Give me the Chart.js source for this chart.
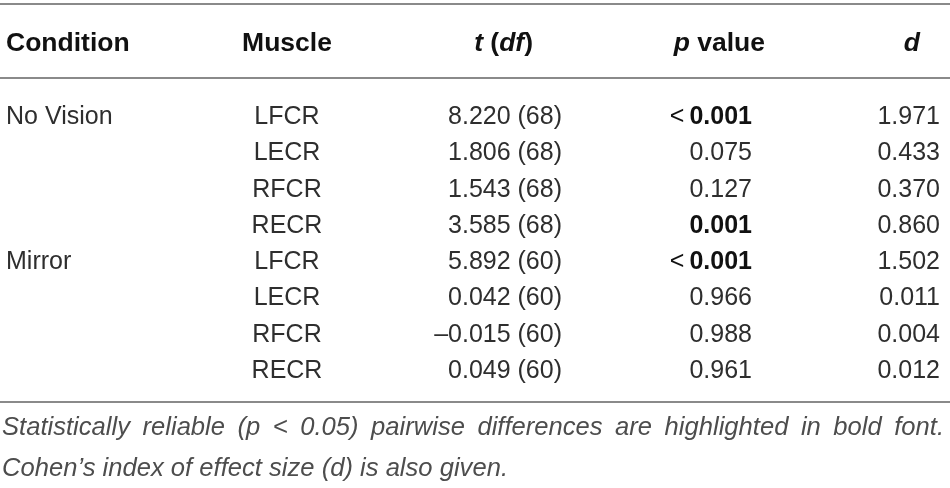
<!DOCTYPE html>
<html><head><meta charset="utf-8">
<script src="https://cdn.jsdelivr.net/npm/chart.js@4/dist/chart.umd.min.js"></script>
<style>html,body{margin:0;padding:0;background:#fff;}#wrap{width:950px;height:488px;position:relative;}</style>
</head><body><div id="wrap"><canvas id="c"></canvas></div>
<script>
// ---- data ----
const columnKeys = ['Condition', 'Muscle', 't (df)', 'p value', 'd'];
const conditionLabels = ['No Vision', '', '', '', 'Mirror', '', '', ''];
const muscles = ['LFCR', 'LECR', 'RFCR', 'RECR', 'LFCR', 'LECR', 'RFCR', 'RECR'];
const tValues = [8.220, 1.806, 1.543, 3.585, 5.892, 0.042, -0.015, 0.049];
const dfValues = [68, 68, 68, 68, 60, 60, 60, 60];
const pValues = [0.001, 0.075, 0.127, 0.001, 0.001, 0.966, 0.988, 0.961];
const pBelow = [true, false, false, false, true, false, false, false];
const dValues = [1.971, 0.433, 0.370, 0.860, 1.502, 0.011, 0.004, 0.012];
const alpha = 0.05;
const footnoteLines = [
  'Statistically reliable (p < 0.05) pairwise differences are highlighted in bold font.',
  'Cohen\u2019s index of effect size (d) is also given.'
];
const headerRuns = [
  [['Condition', 'hb']],
  [['Muscle', 'hb']],
  [['t', 'hbi'], [' (', 'hb'], ['df', 'hbi'], [')', 'hb']],
  [['p', 'hbi'], [' value', 'hb']],
  [['d', 'hbi']]
];
const rowIds = muscles.map((m, i) => i);

// ---- style ----
const FAM = '"Liberation Sans", Arial, Helvetica, sans-serif';
const fonts = {
  r: '400 25px ' + FAM,
  b: '700 25px ' + FAM,
  hb: '700 26.5px ' + FAM,
  hbi: 'italic 700 26.5px ' + FAM,
  i: 'italic 400 25px ' + FAM
};
const colStyle = [
  { align: 'left', dx: -89, hdx: -89 },
  { align: 'center', dx: 2, hdx: 2 },
  { align: 'right', dx: 87, hdx: 58 },
  { align: 'right', dx: 87, hdx: 100 },
  { align: 'right', dx: 85, hdx: 65 }
];
const bodyColor = '#2e2e2e', headColor = '#111111', noteColor = '#4d4d4d', ruleColor = '#8a8a8a';

function fmt(v) { return (v < 0 ? '\u2013' : '') + Math.abs(v).toFixed(3); }

function drawRuns(ctx, runs, x, y, align, color) {
  let total = 0;
  const widths = runs.map(r => { ctx.font = fonts[r[1]]; const w = ctx.measureText(r[0]).width; total += w; return w; });
  let sx = align === 'left' ? x : align === 'center' ? x - total / 2 : x - total;
  ctx.fillStyle = color;
  ctx.textAlign = 'left';
  ctx.textBaseline = 'alphabetic';
  runs.forEach((r, k) => { ctx.font = fonts[r[1]]; ctx.fillText(r[0], sx, y); sx += widths[k]; });
}

const tablePlugin = {
  id: 'table',
  afterDraw(chart) {
    const ctx = chart.ctx, xs = chart.scales.x, ys = chart.scales.y, ca = chart.chartArea;
    const W = chart.width;
    const capOff = 9;
    ctx.save();
    // rules
    ctx.strokeStyle = ruleColor; ctx.lineWidth = 2;
    [ca.top - 93, ca.top - 19, ca.bottom + 15].forEach(y => {
      ctx.beginPath(); ctx.moveTo(0, y); ctx.lineTo(W, y); ctx.stroke();
    });
    // header
    const hy = ca.top - 46;
    columnKeys.forEach((k, c) => {
      const x = xs.getPixelForValue(c) + colStyle[c].hdx;
      drawRuns(ctx, headerRuns[c], x, hy, colStyle[c].align, headColor);
    });
    // body
    rowIds.forEach((r, i) => {
      const y = ys.getPixelForValue(i) + capOff;
      const cx = c => xs.getPixelForValue(c) + colStyle[c].dx;
      if (conditionLabels[i]) drawRuns(ctx, [[conditionLabels[i], 'r']], cx(0), y, colStyle[0].align, bodyColor);
      drawRuns(ctx, [[muscles[i], 'r']], cx(1), y, colStyle[1].align, bodyColor);
      drawRuns(ctx, [[fmt(tValues[i]) + ' (' + dfValues[i] + ')', 'r']], cx(2), y, colStyle[2].align, bodyColor);
      const sig = pBelow[i] || pValues[i] < alpha;
      const pr = [];
      if (pBelow[i]) pr.push(['<', 'r'], ['\u2009', 'r']);
      pr.push([pValues[i].toFixed(3), sig ? 'b' : 'r']);
      drawRuns(ctx, pr, cx(3), y, colStyle[3].align, sig ? headColor : bodyColor);
      drawRuns(ctx, [[dValues[i].toFixed(3), 'r']], cx(4), y, colStyle[4].align, bodyColor);
    });
    // footnote (italic, first line justified)
    ctx.font = fonts.i; ctx.fillStyle = noteColor; ctx.textAlign = 'left'; ctx.textBaseline = 'alphabetic';
    const startX = 2;
    const s = (508 - startX) / ctx.measureText(footnoteLines[1]).width;
    const fy1 = ca.bottom + 48, fy2 = ca.bottom + 89;
    const words = footnoteLines[0].split(' ');
    const ww = words.map(w => ctx.measureText(w).width * s);
    const sumW = ww.reduce((a, b) => a + b, 0);
    const gap = (944 - startX - sumW) / (words.length - 1);
    let x = startX;
    words.forEach((w, k) => {
      ctx.save(); ctx.translate(x, fy1); ctx.scale(s, 1); ctx.fillText(w, 0, 0); ctx.restore();
      x += ww[k] + gap;
    });
    ctx.save(); ctx.translate(startX, fy2); ctx.scale(s, 1); ctx.fillText(footnoteLines[1], 0, 0); ctx.restore();
    ctx.restore();
  }
};

new Chart(document.getElementById('c'), {
  type: 'scatter',
  data: { datasets: [{ data: [] }] },
  options: {
    responsive: true, maintainAspectRatio: false, animation: false, events: [],
    layout: { padding: { top: 97, bottom: 101, left: 0, right: 0 } },
    plugins: { legend: { display: false }, tooltip: { enabled: false } },
    scales: {
      x: { type: 'category', labels: columnKeys, offset: true, display: false },
      y: { type: 'category', labels: rowIds, offset: true, display: false }
    }
  },
  plugins: [tablePlugin]
});
</script></body></html>
